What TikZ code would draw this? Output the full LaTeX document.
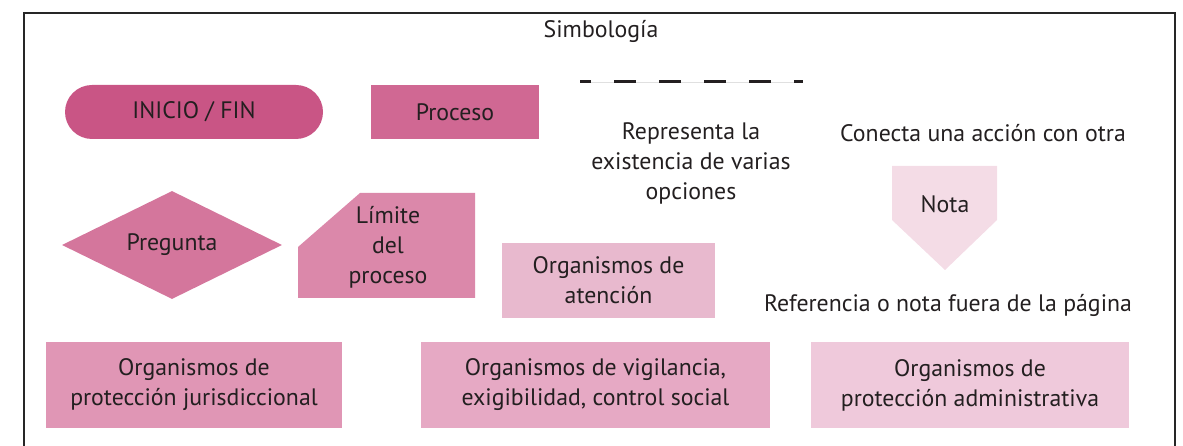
\documentclass[tikz,border=0pt]{standalone}
\usepackage{fontspec}
\setmainfont{PT Sans}
\usetikzlibrary{shapes.geometric}
\definecolor{txt}{HTML}{231F20}
\definecolor{cInicio}{HTML}{C95585}
\definecolor{cProceso}{HTML}{D06893}
\definecolor{cPregunta}{HTML}{D4769C}
\definecolor{cLimite}{HTML}{DB88AA}
\definecolor{cAtencion}{HTML}{E8B9CE}
\definecolor{cJuris}{HTML}{E096B5}
\definecolor{cVigil}{HTML}{E6A9C4}
\definecolor{cAdmin}{HTML}{EFC9DB}
\definecolor{cNota}{HTML}{F4DCE6}
\tikzset{
  lbl/.style={text=txt, font=\fontsize{23.8}{30}\selectfont, align=center, inner sep=0pt},
  box/.style={lbl, rectangle, draw=none, minimum width=#1, minimum height=86pt},
}
\begin{document}
\begin{tikzpicture}[x=1pt,y=-1pt]
\useasboundingbox (0,0) rectangle (1183,446);
% frame
\draw[line width=2pt, black!85] (24,447) -- (24,13) -- (1175,13) -- (1175,447);
\node[lbl] (title) at (601,31) {Simbología};
% terminal
\node[lbl, fill=cInicio, rounded corners=27pt, minimum width=258pt, minimum height=54pt] (inicio) at (194,112) {INICIO / FIN};
% process
\node[lbl, fill=cProceso, minimum width=168pt, minimum height=54pt] (proceso) at (455,112) {Proceso};
% dashed line
\draw[black!12, line width=0.6pt] (580,82) -- (803,82);
\draw[txt, line width=3pt, dash pattern=on 22pt off 23pt, dash phase=11pt] (580,82) -- (803,82);
\node[lbl] (varias) at (691,163) {Representa la\\existencia de varias\\opciones};
\node[lbl] (conecta) at (983,133) {Conecta una acción con otra};
% nota
\fill[cNota] (892,166) -- (997,166) -- (997,220) -- (945,270) -- (892,220) -- cycle;
\node[lbl] (nota) at (945,204) {Nota};
\node[lbl] (ref) at (948,305) {Referencia o nota fuera de la página};
% diamond
\node[lbl, diamond, fill=cPregunta, aspect=2.04, minimum width=220pt, minimum height=108pt] (pregunta) at (172,245) {Pregunta};
% limite
\fill[cLimite] (298,247) -- (360,193) -- (475,193) -- (475,298) -- (298,298) -- cycle;
\node[lbl] (limite) at (388,247) {Límite\\del\\proceso};
% atencion
\node[lbl, fill=cAtencion, minimum width=213pt, minimum height=75pt] (atencion) at (608.5,280.5) {Organismos de\\atención};
% bottom row
\node[box=296pt, fill=cJuris] (juris) at (194,385) {Organismos de\\protección jurisdiccional};
\node[box=349pt, fill=cVigil] (vigil) at (595.5,385) {Organismos de vigilancia,\\exigibilidad, control social};
\node[box=318pt, fill=cAdmin] (admin) at (970,385) {Organismos de\\protección administrativa};
\end{tikzpicture}
\end{document}
